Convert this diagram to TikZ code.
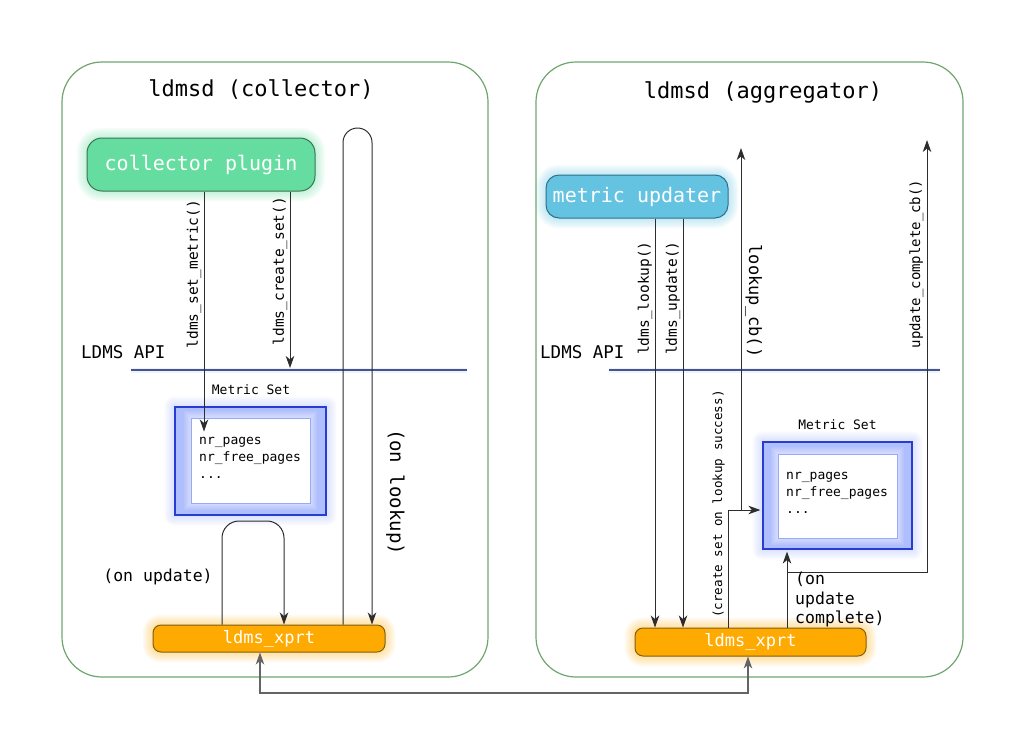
\documentclass[tikz,border=0pt]{standalone}
\usepackage{fontspec}
\setmainfont{DejaVu Sans Mono}
\usetikzlibrary{arrows.meta,backgrounds,calc}
\definecolor{contc}{RGB}{110,165,110}
\definecolor{plugfill}{RGB}{102,221,160}
\definecolor{plugdraw}{RGB}{60,115,80}
\definecolor{updfill}{RGB}{100,195,225}
\definecolor{upddraw}{RGB}{45,110,140}
\definecolor{xfill}{RGB}{255,170,0}
\definecolor{xdraw}{RGB}{125,95,20}
\definecolor{apic}{RGB}{65,85,150}
\definecolor{msdraw}{RGB}{40,60,210}
\definecolor{msfill}{RGB}{175,190,252}
\definecolor{msin}{RGB}{150,170,250}
\definecolor{lineg}{RGB}{45,45,45}
\definecolor{bottg}{RGB}{100,100,100}
\newcommand{\fs}[1]{\fontsize{#1}{#1}\selectfont}
\begin{document}
\begin{tikzpicture}[x=1pt,y=-1pt,
  container/.style={draw=contc, line width=1.2pt, rounded corners=40pt, inner sep=0pt},
  plugbox/.style={draw=plugdraw, fill=plugfill, line width=1pt, rounded corners=15pt, text=white, font=\fs{20}, inner sep=0pt},
  updbox/.style={draw=upddraw, fill=updfill, line width=1pt, rounded corners=13pt, text=white, font=\fs{20}, inner sep=0pt},
  xbox/.style={draw=xdraw, fill=xfill, line width=1pt, rounded corners=8pt, text=white, font=\fs{17}, inner sep=0pt},
  msouter/.style={draw=msdraw, fill=msfill, line width=1.2pt, inner sep=0pt},
  msinner/.style={draw=msin, fill=white, line width=1pt, inner sep=0pt},
  tip/.tip={Stealth[length=12pt,width=8.5pt,inset=3.5pt]},
  arr/.style={draw=lineg, line width=1pt, -tip},
  apiline/.style={draw=apic, line width=1.6pt},
  lbl/.style={inner sep=0pt, text=black},
]
\useasboundingbox (0,0) rectangle (1024,753);

% containers
\node[container, minimum width=426pt, minimum height=615pt] (coll) at (275,369.5) {};
\node[container, minimum width=427pt, minimum height=615pt] (agg) at (749.5,369.5) {};
\node[lbl, font=\fs{22}] (tcoll) at (261,90) {ldmsd (collector)};
\node[lbl, font=\fs{22}] (tagg) at (763,92) {ldmsd (aggregator)};

% main boxes
\node[plugbox, minimum width=228pt, minimum height=53pt] (plugin) at (201,164.5) {collector plugin};
\node[updbox, minimum width=182pt, minimum height=43pt] (upd) at (637,196.5) {metric updater};
\node[xbox, minimum width=232pt, minimum height=27pt] (xc) at (269,638.5) {ldms\_xprt};
\node[xbox, minimum width=231pt, minimum height=28pt] (xa) at (750.5,642) {ldms\_xprt};

% metric sets
\node[msouter, minimum width=151pt, minimum height=108pt] (msc) at (250.5,461) {};
\node[msouter, minimum width=149pt, minimum height=107pt] (msa) at (837.5,495.5) {};
\foreach \n/\cx/\cy/\w/\h in {c/250.5/460.5/119/85, a/837.5/496/119/84} {
  \foreach \i in {1,...,7} {
    \fill[white, opacity=0.09] ($(\cx,\cy)+(-\w/2-\i,-\h/2-\i)$) rectangle ($(\cx,\cy)+(\w/2+\i,\h/2+\i)$);
  }
}
\node[msinner, minimum width=119pt, minimum height=85pt] (mscin) at (250.5,460.5) {};
\node[msinner, minimum width=119pt, minimum height=84pt] (msain) at (837.5,496) {};
\node[lbl, font=\fs{13}] (mslc) at (251,390) {Metric Set};
\node[lbl, font=\fs{13}] (msla) at (837.5,425) {Metric Set};
\node[lbl, font=\fontsize{13}{16.8}\selectfont, align=left, anchor=north west] (mstc) at (199,437) {nr\_pages\\nr\_free\_pages\\...};
\node[lbl, font=\fontsize{13}{16.8}\selectfont, align=left, anchor=north west] (msta) at (786,472) {nr\_pages\\nr\_free\_pages\\...};

% glows
\begin{scope}[on background layer]
  \foreach \i in {1,...,10} {
    \pgfmathsetmacro{\rr}{15+\i}
    \fill[plugfill, opacity=0.045, rounded corners=\rr pt] ([shift={(-\i pt,-\i pt)}]plugin.south west) rectangle ([shift={(\i pt,\i pt)}]plugin.north east);
    \pgfmathsetmacro{\ru}{13+\i}
    \fill[updfill, opacity=0.045, rounded corners=\ru pt] ([shift={(-\i pt,-\i pt)}]upd.south west) rectangle ([shift={(\i pt,\i pt)}]upd.north east);
    \pgfmathsetmacro{\rx}{8+\i}
    \fill[xfill, opacity=0.04, rounded corners=\rx pt] ([shift={(-\i pt,-\i pt)}]xc.south west) rectangle ([shift={(\i pt,\i pt)}]xc.north east);
    \fill[xfill, opacity=0.04, rounded corners=\rx pt] ([shift={(-\i pt,-\i pt)}]xa.south west) rectangle ([shift={(\i pt,\i pt)}]xa.north east);
    \fill[msfill, opacity=0.05, rounded corners=\i pt] ([shift={(-\i pt,-\i pt)}]msc.south west) rectangle ([shift={(\i pt,\i pt)}]msc.north east);
    \fill[msfill, opacity=0.05, rounded corners=\i pt] ([shift={(-\i pt,-\i pt)}]msa.south west) rectangle ([shift={(\i pt,\i pt)}]msa.north east);
  }
\end{scope}

% LDMS API
\node[lbl, font=\fs{17.5}, anchor=west] (apic) at (81,352) {LDMS API};
\node[lbl, font=\fs{17.5}, anchor=west] (apia) at (540,352) {LDMS API};
\coordinate (acl) at (131,370);
\coordinate (acr) at (467,370);
\coordinate (aal) at (609,370);
\coordinate (aar) at (940,370);
\draw[apic, line width=5pt, opacity=0.07] (acl) -- (acr);
\draw[apic, line width=5pt, opacity=0.07] (aal) -- (aar);
\draw[apiline] (acl) -- (acr);
\draw[apiline] (aal) -- (aar);

% collector side x positions
\coordinate (xsm) at (204,0);
\coordinate (xcs) at (290,0);
\coordinate (xl1) at (343,0);
\coordinate (xl2) at (372,0);
\coordinate (xu1) at (222,0);
\coordinate (xu2) at (284,0);

\draw[arr] (xsm |- plugin.south) -- ([yshift=-14pt]xsm |- mscin.north);
\draw[arr] (xcs |- plugin.south) -- ([yshift=2pt]xcs |- acl);
\draw[arr, rounded corners=14.5pt] (xl1 |- xc.north) -- (343,128) -- (372,128) -- (xl2 |- xc.north);
\draw[arr, rounded corners=17pt] (xu1 |- xc.north) -- (222,521) -- (284,521) -- (xu2 |- xc.north);

\node[lbl, font=\fs{14.5}, rotate=90, anchor=south] (lsm) at (201.5,274) {ldms\_set\_metric()};
\node[lbl, font=\fs{14.5}, rotate=90, anchor=south] (lcs) at (287.5,271) {ldms\_create\_set()};
\node[lbl, font=\fs{19}, rotate=-90, anchor=south] (lol) at (386,492) {(on lookup)};
\node[lbl, font=\fs{16.5}] (lou) at (158,577) {(on update)};

% aggregator side
\coordinate (xlk) at (655,0);
\coordinate (xup) at (683,0);
\coordinate (xcb) at (741,0);
\coordinate (xcr) at (728,0);
\coordinate (xoc) at (787,0);
\coordinate (xuc) at (927,0);

\draw[arr] (xlk |- upd.south) -- (xlk |- xa.north);
\draw[arr] (xup |- upd.south) -- (xup |- xa.north);
\draw[arr] (xcr |- xa.north) -- (728,510) -- ([xshift=-2pt]msa.west |- 0,510);
\draw[arr] (741,510) -- (741,148);
\draw[arr] (xoc |- xa.north) -- ([yshift=-2pt]xoc |- msa.south);
\draw[arr] (787,572) -- (927,572) -- (927,140);

\node[lbl, font=\fs{14.5}, rotate=90, anchor=south] (llk) at (652.5,298) {ldms\_lookup()};
\node[lbl, font=\fs{14.5}, rotate=90, anchor=south] (lup) at (680.5,298) {ldms\_update()};
\node[lbl, font=\fs{17}, rotate=-90, anchor=south] (lcb) at (745,301) {lookup\_cb()};
\node[lbl, font=\fs{12.6}, rotate=90, anchor=south] (lcr) at (725,504) {(create set on lookup success)};
\node[lbl, font=\fs{14}, rotate=90, anchor=south] (luc) at (923.5,264) {update\_complete\_cb()};
\node[lbl, font=\fontsize{16.5}{19.5}\selectfont, align=left, anchor=north west] (loc) at (795,572) {(on\\update\\complete)};

% bottom link
\coordinate (bl) at (260,693);
\coordinate (br) at (748,693);
\draw[draw=bottg, line width=1.4pt, tip-tip] (bl |- xc.south) -- (bl) -- (br) -- (br |- xa.south);
\end{tikzpicture}
\end{document}
